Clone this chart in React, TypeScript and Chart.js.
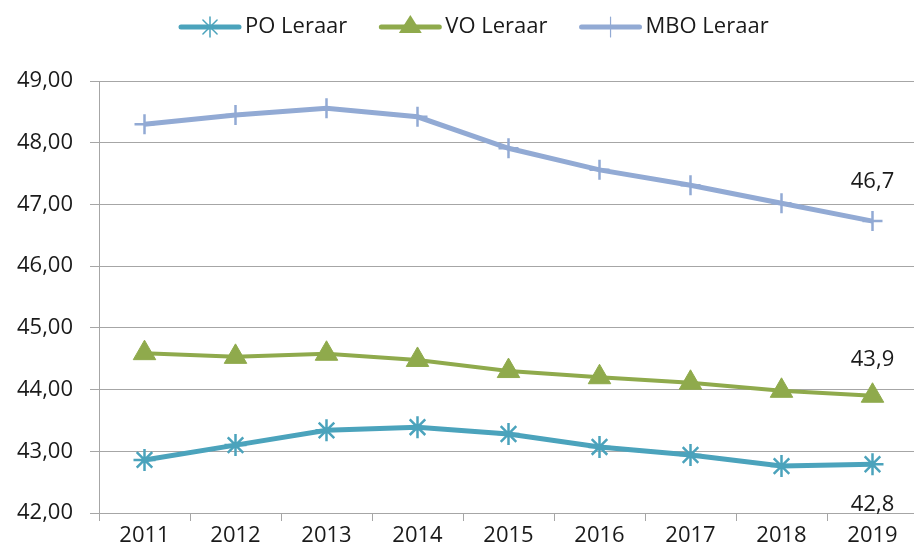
import React, { useEffect, useRef } from "react";
import { Chart, registerables } from "chart.js";

Chart.register(...registerables);

const years = ["2011", "2012", "2013", "2014", "2015", "2016", "2017", "2018", "2019"];
const poLeraar = [42.86, 43.1, 43.34, 43.39, 43.28, 43.07, 42.94, 42.76, 42.79];
const voLeraar = [44.59, 44.53, 44.58, 44.48, 44.3, 44.2, 44.11, 43.98, 43.9];
const mboLeraar = [48.3, 48.45, 48.56, 48.42, 47.91, 47.56, 47.31, 47.02, 46.73];
const lastLabels = ["42,8", "43,9", "46,7"];
const seriesNames = ["PO Leraar", "VO Leraar", "MBO Leraar"];

const PO_COLOR = "#4BA3BC";
const VO_COLOR = "#8FAA4C";
const MBO_COLOR = "#92AAD4";
const FONT = "'Open Sans', sans-serif";
const GRID = "#A6A6A6";
const TEXT = "#1a1a1a";

const labelOffsets = [40, -36, -39];

const lastLabelPlugin = {
  id: "lastLabels",
  afterDatasetsDraw(chart: any) {
    const ctx = chart.ctx;
    ctx.save();
    ctx.font = `22px ${FONT}`;
    ctx.fillStyle = TEXT;
    ctx.textAlign = "center";
    ctx.textBaseline = "middle";
    chart.data.datasets.forEach((ds: any, i: number) => {
      const meta = chart.getDatasetMeta(i);
      const pt = meta.data[meta.data.length - 1];
      ctx.fillText(lastLabels[i], pt.x, pt.y + labelOffsets[i]);
    });
    ctx.restore();
  },
};

function drawMarker(ctx: CanvasRenderingContext2D, style: string, color: string, x: number, y: number) {
  ctx.save();
  ctx.strokeStyle = color;
  ctx.fillStyle = color;
  if (style === "star") {
    const r = 10;
    ctx.lineWidth = 1.5;
    ctx.beginPath();
    for (let k = 0; k < 4; k++) {
      const a = (k * Math.PI) / 4;
      ctx.moveTo(x - r * Math.cos(a), y - r * Math.sin(a));
      ctx.lineTo(x + r * Math.cos(a), y + r * Math.sin(a));
    }
    ctx.stroke();
  } else if (style === "triangle") {
    const r = 12;
    ctx.beginPath();
    ctx.moveTo(x, y - r);
    ctx.lineTo(x + r * 0.866 * 1.1, y + r * 0.5);
    ctx.lineTo(x - r * 0.866 * 1.1, y + r * 0.5);
    ctx.closePath();
    ctx.fill();
  } else {
    ctx.lineWidth = 1.2;
    ctx.beginPath();
    ctx.moveTo(x, y - 10);
    ctx.lineTo(x, y + 10);
    ctx.stroke();
  }
  ctx.restore();
}

const legendPlugin = {
  id: "customLegend",
  afterDraw(chart: any) {
    const ctx = chart.ctx;
    ctx.save();
    ctx.font = `22px ${FONT}`;
    ctx.textBaseline = "middle";
    ctx.textAlign = "left";
    const y = 27;
    let x = 181;
    chart.data.datasets.forEach((ds: any, i: number) => {
      const lineLen = 58;
      ctx.strokeStyle = ds.borderColor;
      ctx.lineWidth = 5;
      ctx.lineCap = "round";
      ctx.beginPath();
      ctx.moveTo(x, y);
      ctx.lineTo(x + lineLen, y);
      ctx.stroke();
      drawMarker(ctx, ds.pointStyle, ds.borderColor, x + lineLen / 2, y);
      ctx.fillStyle = TEXT;
      ctx.fillText(seriesNames[i], x + lineLen + 6, y);
      x += lineLen + 6 + ctx.measureText(seriesNames[i]).width + 34;
    });
    ctx.restore();
  },
};

export default function App() {
  const ref = useRef<HTMLCanvasElement | null>(null);
  useEffect(() => {
    if (!ref.current) return;
    document.body.style.overflow = "hidden";
    document.body.style.margin = "0";
    const chart = new Chart(ref.current, {
      type: "line",
      data: {
        labels: years,
        datasets: [
          {
            label: seriesNames[0],
            data: poLeraar,
            borderColor: PO_COLOR,
            backgroundColor: PO_COLOR,
            borderWidth: 5,
            pointStyle: "star",
            pointRadius: 11,
            pointBorderWidth: 2.5,
            pointBorderColor: PO_COLOR,
            pointBackgroundColor: PO_COLOR,
            tension: 0,
          },
          {
            label: seriesNames[1],
            data: voLeraar,
            borderColor: VO_COLOR,
            backgroundColor: VO_COLOR,
            borderWidth: 4,
            pointStyle: "triangle",
            pointRadius: 13,
            pointBorderWidth: 1,
            pointBorderColor: VO_COLOR,
            pointBackgroundColor: VO_COLOR,
            tension: 0,
          },
          {
            label: seriesNames[2],
            data: mboLeraar,
            borderColor: MBO_COLOR,
            backgroundColor: MBO_COLOR,
            borderWidth: 5,
            pointStyle: "cross",
            pointRadius: 10,
            pointBorderWidth: 2.5,
            pointBorderColor: MBO_COLOR,
            pointBackgroundColor: MBO_COLOR,
            tension: 0,
          },
        ],
      },
      options: {
        animation: false,
        responsive: false,
        devicePixelRatio: 1,
        layout: { autoPadding: false, padding: { top: 81, right: 0, left: 0, bottom: 0 } },
        plugins: {
          legend: { display: false },
          tooltip: { enabled: false },
        },
        scales: {
          x: {
            offset: true,
            grid: {
              display: true,
              drawOnChartArea: false,
              drawTicks: true,
              tickLength: 8,
              color: GRID,
              offset: true,
            },
            border: { display: false },
            ticks: {
              color: TEXT,
              font: { family: FONT, size: 22 },
              padding: 2,
              maxRotation: 0,
            },
            afterFit(scale: any) {
              scale.height = 45;
              scale.paddingLeft = 0;
              scale.paddingRight = 0;
            },
          },
          y: {
            min: 42,
            max: 49,
            grid: {
              color: GRID,
              lineWidth: 1,
              drawTicks: true,
              tickLength: 9,
            },
            border: { display: true, color: GRID, width: 1 },
            ticks: {
              stepSize: 1,
              color: TEXT,
              font: { family: FONT, size: 22 },
              padding: 17,
              callback: (v: any) => Number(v).toFixed(2).replace(".", ","),
            },
            afterFit(scale: any) {
              scale.width = 99;
            },
          },
        },
      },
      plugins: [lastLabelPlugin, legendPlugin],
    });
    return () => chart.destroy();
  }, []);
  return (
    <div
      style={{
        position: "absolute",
        left: 0,
        top: 0,
        width: 914,
        height: 558,
        overflow: "hidden",
        background: "#fff",
      }}
    >
      <canvas ref={ref} width={918} height={558} style={{ display: "block" }} />
    </div>
  );
}
